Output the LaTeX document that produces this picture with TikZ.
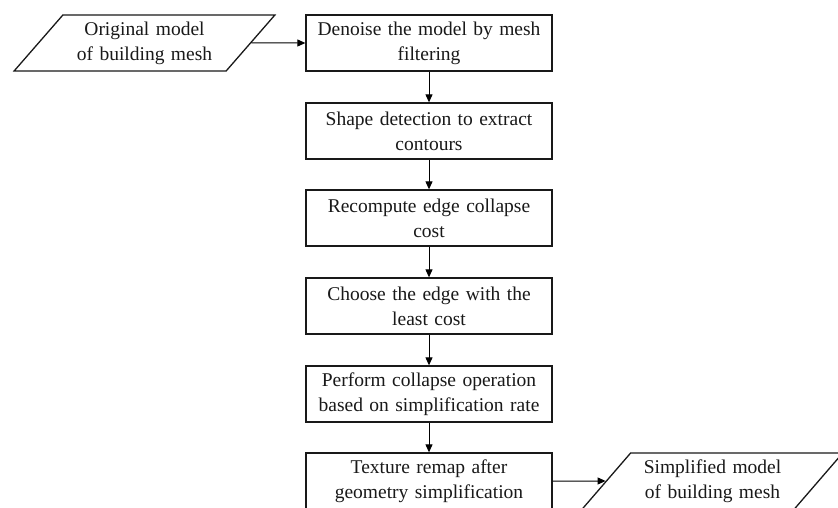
\documentclass[tikz,border=0pt]{standalone}
\usepackage{fontspec}
\setmainfont{Liberation Serif}
\usetikzlibrary{shapes.geometric,arrows.meta}
\newcommand\flowfont{\fontsize{19.5}{25}\selectfont\spaceskip=0.33em plus 0.1em\relax}
\begin{document}
\begin{tikzpicture}[x=1pt,y=1pt,
  stepbox/.style={draw=black!90,line width=1.3pt,minimum width=246pt,minimum height=56pt,align=center,inner sep=0pt,
    font=\flowfont,text=black!90},
  iobox/.style={draw=black!90,line width=1.3pt,trapezium,trapezium left angle=46.6,trapezium right angle=133.4,
    trapezium stretches=true,minimum width=261pt,minimum height=56pt,align=center,inner sep=0pt,
    font=\flowfont,text=black!90},
  conn/.style={draw=black,line width=1pt,-{Triangle[length=8pt,width=7pt]}}]
\useasboundingbox (0,0) rectangle (838,507);
\clip (0,0) rectangle (838,507);
\fill[white] (0,0) rectangle (838,507);
\node[iobox] (p1) at (144.5,464) {Original model\\of building mesh};
\node[stepbox] (b1) at (429,464) {Denoise the model by mesh\\filtering};
\node[stepbox] (b2) at (429,376) {Shape detection to extract\\contours};
\node[stepbox] (b3) at (429,289) {Recompute edge collapse\\cost};
\node[stepbox] (b4) at (429,201) {Choose the edge with the\\least cost};
\node[stepbox] (b5) at (429,113) {Perform collapse operation\\based on simplification rate};
\node[stepbox] (b6) at (429,26) {Texture remap after\\geometry simplification};
\node[iobox] (p2) at (712.5,26) {Simplified model\\of building mesh};
\draw[conn] (p1.east) -- (b1.west);
\draw[conn] (b1) -- (b2);
\draw[conn] (b2) -- (b3);
\draw[conn] (b3) -- (b4);
\draw[conn] (b4) -- (b5);
\draw[conn] (b5) -- (b6);
\draw[conn] (b6.east) -- (p2.west);
\end{tikzpicture}
\end{document}
